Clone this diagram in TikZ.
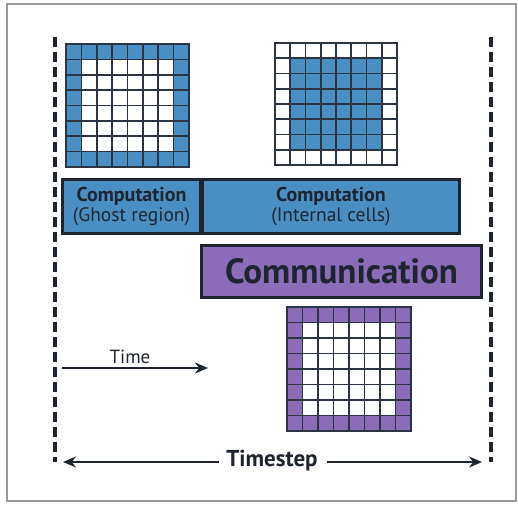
\documentclass[tikz,border=0pt]{standalone}
\usepackage{fontspec}
\setmainfont{PT Sans}
\usetikzlibrary{arrows.meta}
\definecolor{cblue}{HTML}{4A8FC3}
\definecolor{cpurple}{HTML}{8A6CB8}
\definecolor{cdark}{HTML}{1E2530}
\definecolor{cgrid}{HTML}{2B3442}
\definecolor{cframe}{HTML}{9A9A9A}
\tikzset{
  gridline/.style={cgrid, line width=1.6pt},
  gridborder/.style={cgrid, line width=2.6pt},
  taskbox/.style={draw=cdark, line width=3pt, inner sep=0pt, anchor=north west, align=center, text=cdark},
  sepline/.style={cdark, line width=3.6pt, dash pattern=on 10pt off 5pt},
  timearrow/.style={cdark, line width=1.8pt, -{Stealth[length=13pt,width=11pt]}},
  lbl/.style={text=cdark, inner sep=0pt}
}
\newcommand{\cellgrid}[6]{% name, x0, y0, size, outer colour, inner colour
  \node[minimum size=#4pt, inner sep=0pt, outer sep=0pt, anchor=north west, fill=#5] (#1) at (#2,#3) {};
  \fill[#6] (#2+#4/8,#3+#4/8) rectangle (#2+#4*7/8,#3+#4*7/8);
  \foreach \i in {1,...,7} {
    \draw[gridline] (#2+\i*#4/8,#3) -- (#2+\i*#4/8,#3+#4);
    \draw[gridline] (#2,#3+\i*#4/8) -- (#2+#4,#3+\i*#4/8);
  }
  \draw[gridborder] (#1.north west) rectangle (#1.south east);
}
\begin{document}
\begin{tikzpicture}[x=1pt,y=-1pt]
\useasboundingbox (0,0) rectangle (518,504);
\fill[white] (0,0) rectangle (518,504);
\draw[cframe, line width=1.2pt] (7,4) rectangle (516,501);
% separators
\coordinate (lt) at (55,37); \coordinate (lb) at (55,462);
\coordinate (rt) at (491,37); \coordinate (rb) at (491,462);
\draw[sepline] (lt) -- (lb);
\draw[sepline] (rt) -- (rb);
% grids
\cellgrid{g1}{66}{44}{123}{cblue}{white}
\cellgrid{g2}{275}{43}{122}{white}{cblue}
\cellgrid{g3}{287}{307}{124}{cpurple}{white}
% task boxes
\node[taskbox, fill=cblue, minimum width=138pt, minimum height=54pt] (b1) at (61,178)
  {\fontsize{20}{20}\selectfont\textbf{Computation}\\[2pt]\fontsize{19.5}{20}\selectfont(Ghost region)};
\node[taskbox, fill=cblue, minimum width=257pt, minimum height=54pt] (b2) at (201,178)
  {\fontsize{20}{20}\selectfont\textbf{Computation}\\[2pt]\fontsize{19.5}{20}\selectfont(Internal cells)};
\node[taskbox, fill=cpurple, minimum width=280pt, minimum height=52pt] (b3) at (200,244)
  {\fontsize{35}{36}\selectfont\textbf{Communication}};
% time arrow
\coordinate (ta) at (62,368); \coordinate (tb) at (208,368);
\draw[timearrow] (ta) -- (tb);
\node[lbl, font=\fontsize{19}{20}\selectfont] (tl) at (130,357) {Time};
% timestep
\node[lbl, font=\fontsize{23}{24}\selectfont\bfseries] (ts) at (272,461) {Timestep};
\coordinate (tsl) at (63,462); \coordinate (tsr) at (482,462);
\draw[timearrow] ([xshift=-7pt]ts.west |- tsl) -- (tsl);
\draw[timearrow] ([xshift=9pt]ts.east |- tsr) -- (tsr);
\end{tikzpicture}
\end{document}
